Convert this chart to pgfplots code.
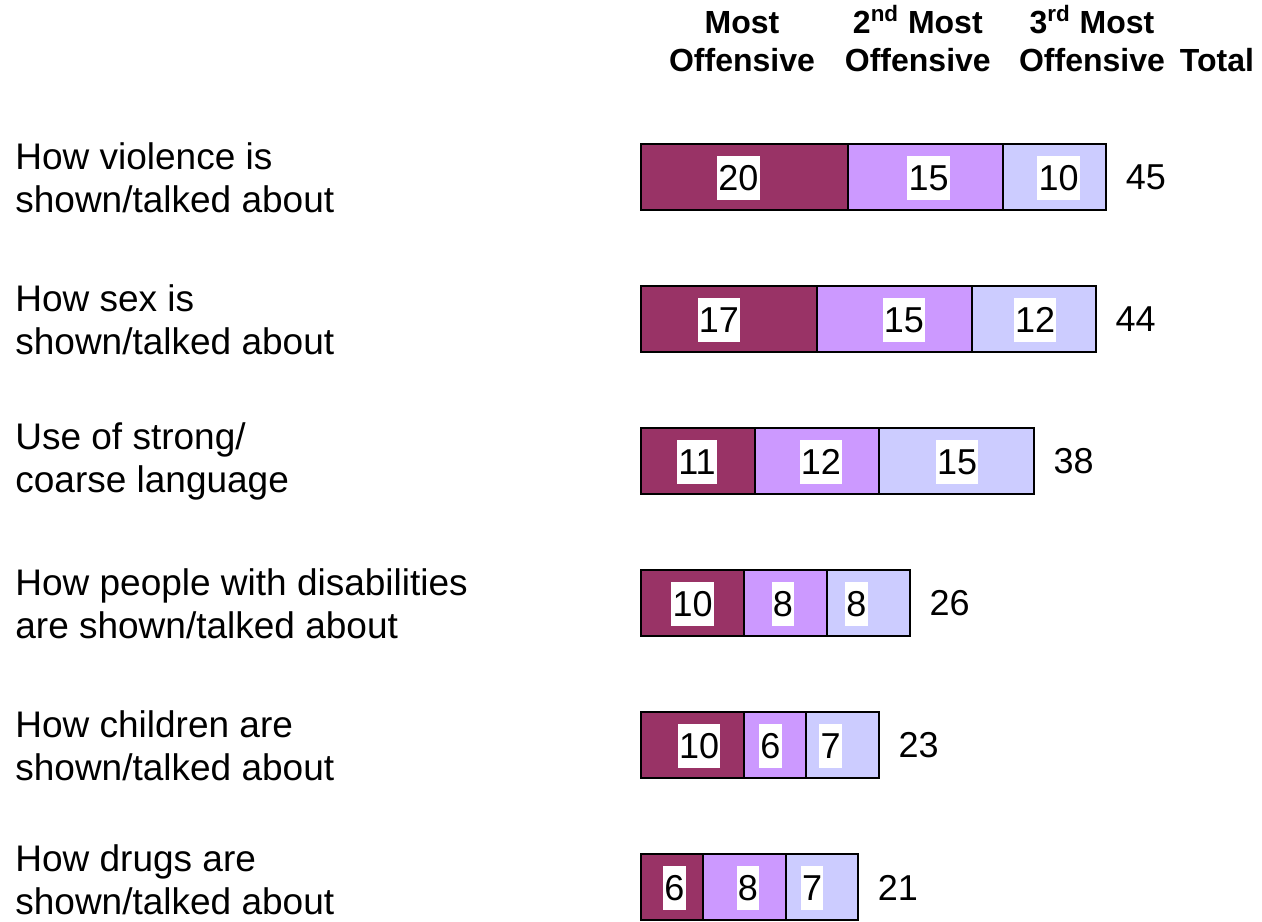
\documentclass[border=0pt]{standalone}
\usepackage{pgfplots}
\pgfplotsset{compat=1.18}
\usepackage{pgfplotstable}
\usepackage{fontspec}
\setmainfont{Liberation Sans}
\definecolor{cA}{HTML}{993366}
\definecolor{cB}{HTML}{CC99FF}
\definecolor{cC}{HTML}{CCCCFF}
% values and small label offsets (pt) from the segment centres
\pgfplotstableread{
y a b c z t oa ob oc
0 20 15 10 0.0001 45 -2.9 1.8 2.25
1 17 15 12 0.0001 44 -4.9 4.95 0.75
2 11 12 15 0.0001 38 -0.4 2.2 0.5
3 10 8 8 0.0001 26 0 -1.3 -5.9
4 10 6 7 0.0001 23 3.2 -2.4 -5.95
5 6 8 7 0.0001 21 1.25 1.85 -4.85
}\data
\tikzset{
  cat/.style={anchor=west, align=left, inner sep=0pt, font=\fontsize{18.5}{21.5}\selectfont},
  hd/.style={anchor=base, inner sep=0pt, font=\fontsize{16}{19}\selectfont\bfseries},
}
\begin{document}
\begin{tikzpicture}
\begin{axis}[
  scale only axis, width=631pt, height=460.5pt,
  xmin=-62.05, xmax=60.12, ymin=-1.25, ymax=5.236,
  y dir=reverse, hide axis, clip=false,
  xbar stacked, bar width=33pt,
  /pgf/number format/assume math mode=true,
  every axis plot/.append style={draw=black, line width=1pt},
  seglab/.style={nodes near coords,
    nodes near coords style={anchor=center, fill=white, text=black,
      inner xsep=0.6pt, inner ysep=0pt, text height=17pt, text depth=5pt,
      font=\fontsize{18}{21.5}\selectfont, xshift=\dx pt, yshift=-0.5pt}},
]
\addplot[fill=cA, seglab, point meta=\thisrow{a}, visualization depends on={\thisrow{oa} \as \dx}] table[x=a,y=y]{\data};
\addplot[fill=cB, seglab, point meta=\thisrow{b}, visualization depends on={\thisrow{ob} \as \dx}] table[x=b,y=y]{\data};
\addplot[fill=cC, seglab, point meta=\thisrow{c}, visualization depends on={\thisrow{oc} \as \dx}] table[x=c,y=y]{\data};
\addplot[draw=none, fill=none, nodes near coords, point meta=\thisrow{t},
  nodes near coords style={anchor=west, inner sep=0pt, xshift=9.5pt, text=black,
    font=\fontsize{18}{21.5}\selectfont}]
  table[x=z,y=y]{\data};
\draw[draw=none] (rel axis cs:0,0) rectangle (rel axis cs:1,1);
% category labels
\node[cat] at (axis cs:-60.6,0) {How violence is\\shown/talked about};
\node[cat] at (axis cs:-60.6,1) {How sex is\\shown/talked about};
\node[cat] at (axis cs:-60.6,2) {Use of strong/\\coarse language};
\node[cat] at (axis cs:-60.6,3) {How people with disabilities\\are shown/talked about};
\node[cat] at (axis cs:-60.6,4) {How children are\\shown/talked about};
\node[cat] at (axis cs:-60.6,4.945) {How drugs are\\shown/talked about};
% header
\node[hd] at (axis cs:9.78,-1.0106) {Most};
\node[hd] at (axis cs:9.78,-0.743) {Offensive};
\node[hd] at (axis cs:26.8,-1.0106) {2\textsuperscript{nd} Most};
\node[hd] at (axis cs:26.8,-0.743) {Offensive};
\node[hd] at (axis cs:43.66,-1.0106) {3\textsuperscript{rd} Most};
\node[hd] at (axis cs:43.66,-0.743) {Offensive};
\node[hd] at (axis cs:55.76,-0.743) {Total};
\end{axis}
\end{tikzpicture}
\end{document}
